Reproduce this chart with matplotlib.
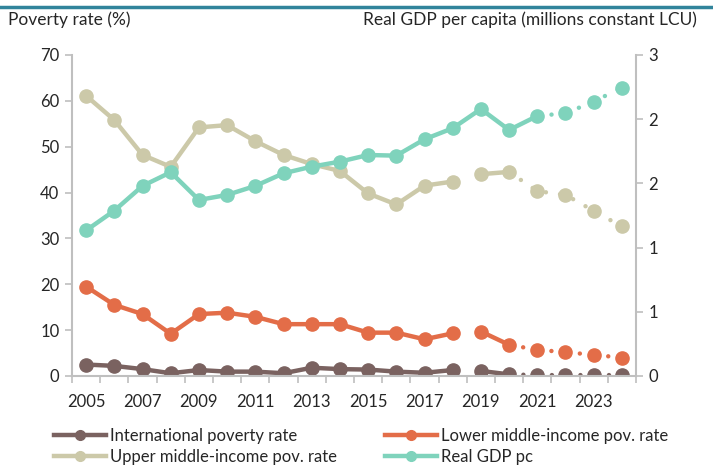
import numpy as np
import matplotlib
matplotlib.use("Agg")
import matplotlib.pyplot as plt
from matplotlib.lines import Line2D
from matplotlib.ticker import FormatStrFormatter

plt.rcParams['font.family'] = ['Lato', 'DejaVu Sans']

# Data
years = list(range(2005, 2025))
intl_pov = [2.5, 2.2, 1.5, 0.6, 1.3, 0.95, 0.95, 0.6, 1.8, 1.5,
            1.4, 0.95, 0.7, 1.3, 1.1, 0.35, 0.2, 0.2, 0.2, 0.2]
lower_mid = [19.5, 15.5, 13.5, 9.2, 13.5, 13.8, 12.9, 11.3, 11.3, 11.3,
             9.45, 9.45, 8.0, 9.3, 9.7, 6.8, 5.7, 5.2, 4.6, 4.0]
upper_mid = [61.1, 55.8, 48.2, 45.6, 54.2, 54.7, 51.2, 48.2, 46.2, 44.7,
             39.8, 37.4, 41.5, 42.4, 44.0, 44.5, 40.3, 39.5, 36.0, 32.6]
gdp_pc = [1.36, 1.545, 1.776, 1.904, 1.645, 1.692, 1.776, 1.894, 1.956, 2.003,
          2.065, 2.059, 2.212, 2.315, 2.495, 2.299, 2.43, 2.455, 2.564, 2.695]

c_intl = '#7a6260'
c_lower = '#e36d48'
c_upper = '#ccc9a9'
c_gdp = '#7fd3bc'
grey = '#bfbfbf'
txt = '#262626'

x = np.arange(len(years))
lw = 3.2
ms = 9.5
dots = (0, (0.01, 3.2))

fig = plt.figure(figsize=(7.13, 4.68), dpi=100)
ax = fig.add_axes([0.101, 0.1966, 0.791, 0.686])
ax2 = ax.twinx()


def draw_pov(a, vals, color):
    v = np.array(vals)
    a.plot(x[:14], v[:14], color=color, lw=lw, solid_capstyle='round')
    a.plot(x[14:16], v[14:16], color=color, lw=lw, solid_capstyle='round')
    a.plot(x[15:], v[15:], color=color, lw=lw, linestyle=dots, dash_capstyle='round')
    a.plot(x, v, linestyle='none', marker='o', ms=ms, color=color)


draw_pov(ax, upper_mid, c_upper)
draw_pov(ax, lower_mid, c_lower)
draw_pov(ax, intl_pov, c_intl)

g = np.array(gdp_pc)
ax2.plot(x[:17], g[:17], color=c_gdp, lw=lw, solid_capstyle='round')
ax2.plot(x[16:], g[16:], color=c_gdp, lw=lw, linestyle=dots, dash_capstyle='round')
ax2.plot(x, g, linestyle='none', marker='o', ms=ms, color=c_gdp)

ax.set_xlim(-0.5, len(years) - 0.5)
ax.set_ylim(0, 70)
ax.set_yticks(np.arange(0, 71, 10))
ax2.set_ylim(0, 3)
ax2.set_yticks(np.arange(0, 3.01, 0.6))
ax2.yaxis.set_major_formatter(FormatStrFormatter('%.0f'))

ax.set_xticks(x[::2])
ax.set_xticklabels([str(y) for y in years[::2]])
ax.set_xticks(np.arange(-0.5, len(years), 1), minor=True)
ax.tick_params(axis='x', which='major', length=0, pad=13, labelsize=12, labelcolor=txt)
ax.tick_params(axis='x', which='minor', length=5, width=1.2, color=grey, direction='out')
ax.tick_params(axis='y', length=5, width=1.2, color=grey, labelsize=12, labelcolor=txt, pad=4)
ax2.tick_params(axis='y', length=5, width=1.2, color=grey, labelsize=12, labelcolor=txt, pad=4)

for a in (ax, ax2):
    a.spines['top'].set_visible(False)
    for s in ('left', 'right', 'bottom'):
        a.spines[s].set_color(grey)
        a.spines[s].set_linewidth(1.5)
ax.spines['right'].set_visible(False)
ax2.spines['left'].set_visible(False)
ax2.spines['bottom'].set_visible(False)

fig.text(0.011, 0.957, 'Poverty rate (%)', ha='left', va='center', fontsize=12.5, color=txt)
fig.text(0.978, 0.957, 'Real GDP per capita (millions constant LCU)', ha='right',
         va='center', fontsize=12.5, color=txt)

# top rule
fig.add_artist(Line2D([0, 1], [0.985, 0.985], transform=fig.transFigure,
                      color='#31849b', lw=2.5))

handles = [
    Line2D([], [], color=c_intl, lw=lw, marker='o', ms=7),
    Line2D([], [], color=c_upper, lw=lw, marker='o', ms=7),
    Line2D([], [], color=c_lower, lw=lw, marker='o', ms=7),
    Line2D([], [], color=c_gdp, lw=lw, marker='o', ms=7),
]
labels = ['International poverty rate', 'Upper middle-income pov. rate',
          'Lower middle-income pov. rate', 'Real GDP pc']
fig.legend(handles, labels, ncol=2, loc='center left', bbox_to_anchor=(0.064, 0.046),
           frameon=False, fontsize=12, handlelength=3.1, handletextpad=0.25,
           columnspacing=2.9, labelspacing=0.3, borderpad=0, labelcolor=txt)

fig.savefig('out.png', dpi=100)
